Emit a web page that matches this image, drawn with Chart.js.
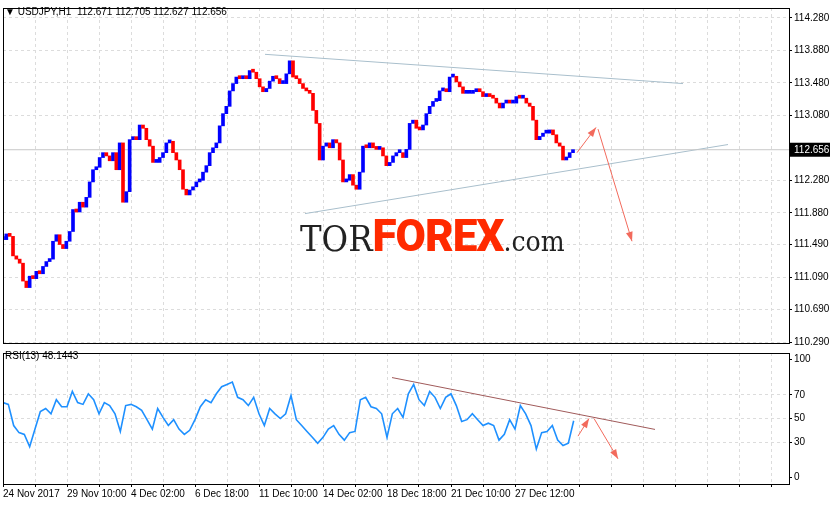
<!DOCTYPE html>
<html>
<head>
<meta charset="utf-8">
<script src="https://cdn.jsdelivr.net/npm/chart.js@4"></script>
<style>
	body { margin: 0; background: #fff; width: 831px; height: 505px; overflow: hidden; position: relative; font-family: 'Liberation Sans', sans-serif; }
	canvas { position: absolute; left: 0; }
	#main { top: 0; }
	#rsi { top: 345px; }
	.label { position: absolute; font-size: 10px; color: #000; white-space: pre; }
	.logo { position: absolute; left: 300px; top: 214px; white-space: nowrap; line-height: 1; }
	.logo .tor { font-family: 'DejaVu Serif Condensed', 'DejaVu Serif', serif; font-size: 36px; color: #222; }
	.logo .forex { font-family: 'Roboto', sans-serif; font-weight: 900; font-size: 44px; color: #ff2a00; letter-spacing: -1px; }
	.logo .com { font-family: 'DejaVu Serif Condensed', 'DejaVu Serif', serif; font-size: 28px; color: #222; }
</style>
</head>
<body>
<canvas id="main" width="831" height="351"></canvas>
<canvas id="rsi" width="831" height="160"></canvas>
<div class="label" style="left:5px;top:6px;">▼ USDJPY,H1  112.671 112.705 112.627 112.656</div>
<div class="label" style="left:5px;top:350px;">RSI(13) 48.1443</div>
<div class="logo"><span class="tor">TOR</span><span class="forex">FOREX</span><span class="com">.com</span></div>
<script>
// closes sampled roughly every 10/3 hourly bars
const closeStep = 10 / 3
const closes = [
	111.55, 111.62, 111.59, 111.35, 111.31, 111.26, 111.04, 110.96, 111.10, 111.07,
	111.16, 111.13, 111.22, 111.28, 111.31, 111.53, 111.61, 111.49, 111.44, 111.53,
	111.65, 111.92, 111.89, 112.01, 111.95, 112.07, 112.26, 112.41, 112.44, 112.56,
	112.62, 112.58, 112.52, 112.62, 112.41, 112.74, 112.01, 112.14, 112.78, 112.80,
	112.78, 112.96, 112.92, 112.78, 112.70, 112.50, 112.50, 112.56, 112.62, 112.74,
	112.76, 112.62, 112.53, 112.41, 112.17, 112.10, 112.16, 112.20, 112.26, 112.28,
	112.38, 112.46, 112.62, 112.68, 112.74, 112.95, 113.10, 113.19, 113.38, 113.47,
	113.55, 113.53, 113.55, 113.53, 113.63, 113.61, 113.53, 113.43, 113.37, 113.41,
	113.50, 113.56, 113.53, 113.47, 113.47, 113.59, 113.75, 113.55, 113.53, 113.47,
	113.41, 113.38, 113.35, 113.14, 112.98, 112.53, 112.70, 112.74, 112.68, 112.78,
	112.74, 112.53, 112.26, 112.28, 112.35, 112.22, 112.17, 112.38, 112.70, 112.68,
	112.74, 112.68, 112.66, 112.68, 112.58, 112.46, 112.50, 112.58, 112.62, 112.62,
	112.56, 112.66, 112.98, 113.02, 112.92, 112.90, 112.96, 113.10, 113.19, 113.25,
	113.26, 113.38, 113.38, 113.37, 113.55, 113.56, 113.49, 113.43, 113.35, 113.35,
	113.35, 113.37, 113.38, 113.37, 113.31, 113.32, 113.31, 113.29, 113.23, 113.17,
	113.23, 113.26, 113.23, 113.23, 113.31, 113.29, 113.29, 113.23, 113.19, 113.02,
	112.78, 112.82, 112.86, 112.86, 112.90, 112.84, 112.74, 112.70, 112.53, 112.56,
	112.62, 112.656,
]

// RSI(13) sampled roughly every 16/3 hourly bars
const rsiStep = 16 / 3
const rsiValues = [
	63.5, 62, 44, 38, 36.5, 26, 41, 56, 58.5, 54, 66, 60, 60, 73, 63.5, 62, 71, 66, 54, 63.5,
	61, 54, 39, 61, 62, 60, 57, 49, 41, 58.5, 51, 44, 49, 41, 36.5, 40, 49, 60, 66, 63.5,
	71, 77, 79, 81, 68, 66, 61, 68, 54, 44, 58.5, 54, 50, 54, 69.6, 49, 44, 39, 34, 29,
	34, 41, 44, 36.5, 31.6, 38, 39, 66, 68, 60, 58.5, 54, 34, 54, 58.5, 51, 71, 79, 66, 61,
	73, 68, 58.5, 68, 71, 61, 47.5, 49, 54, 49, 44, 46, 44, 31.6, 36.5, 49, 41, 61, 54, 44,
	24, 38, 39, 44, 31.6, 27, 29, 48.1,
]

const priceTicks = [114.28, 113.88, 113.48, 113.08, 112.28, 111.88, 111.49, 111.09, 110.69, 110.29]
const rsiTicks = [100, 70, 50, 30, 0]
const rsiGrid = [70, 50, 30]
const lastPrice = 112.656

// x positions in hours from 24 Nov 2017 00:00
const dateTicks = [0, 64, 128, 192, 256, 320, 384, 448, 512]
const dateLabels = ['24 Nov 2017', '29 Nov 10:00', '4 Dec 02:00', '6 Dec 18:00', '11 Dec 10:00', '14 Dec 02:00', '18 Dec 18:00', '21 Dec 10:00', '27 Dec 12:00']

const upperTrend = [{ x: 262, y: 113.83 }, { x: 680, y: 113.47 }]
const lowerTrend = [{ x: 302, y: 111.87 }, { x: 725, y: 112.72 }]
const priceArrows = [
	[{ x: 574, y: 112.62 }, { x: 593, y: 112.93 }],
	[{ x: 595, y: 112.91 }, { x: 629, y: 111.53 }],
]
const rsiTrend = [{ x: 389, y: 84.8 }, { x: 652, y: 40.7 }]
const rsiArrows = [
	[{ x: 575, y: 35 }, { x: 586, y: 50 }],
	[{ x: 591, y: 50 }, { x: 615, y: 15.7 }],
]

const xMax = 786
const gridColor = '#dcdcdc'
const arrowColor = '#f26a5c'
const font = { family: 'Liberation Sans', size: 10 }

const candles = closes.map((c, i) => ({
	x: i * closeStep,
	y: [i === 0 ? c : closes[i - 1], c],
}))
const rsiPoints = rsiValues.map((v, i) => ({ x: i * rsiStep, y: v }))

const framePlugin = {
	id: 'frame',
	afterDraw(chart) {
		const { ctx, chartArea: a } = chart
		ctx.save()
		ctx.strokeStyle = '#000'
		ctx.lineWidth = 1
		ctx.strokeRect(a.left + 0.5, a.top + 0.5, a.right - a.left, a.bottom - a.top)
		const arrows = chart.options.plugins.frame.arrows || []
		const xs = chart.scales.x
		const ys = chart.scales.y
		ctx.strokeStyle = arrowColor
		ctx.fillStyle = arrowColor
		arrows.forEach(([p, q]) => {
			const x1 = xs.getPixelForValue(p.x), y1 = ys.getPixelForValue(p.y)
			const x2 = xs.getPixelForValue(q.x), y2 = ys.getPixelForValue(q.y)
			ctx.beginPath()
			ctx.moveTo(x1, y1)
			ctx.lineTo(x2, y2)
			ctx.stroke()
			const ang = Math.atan2(y2 - y1, x2 - x1)
			ctx.beginPath()
			ctx.moveTo(x2, y2)
			ctx.lineTo(x2 - 10 * Math.cos(ang - 0.35), y2 - 10 * Math.sin(ang - 0.35))
			ctx.lineTo(x2 - 10 * Math.cos(ang + 0.35), y2 - 10 * Math.sin(ang + 0.35))
			ctx.closePath()
			ctx.fill()
		})
		const tag = chart.options.plugins.frame.priceTag
		if (tag) {
			const y = ys.getPixelForValue(tag)
			ctx.fillStyle = '#000'
			ctx.fillRect(a.right + 1, y - 7, 40, 14)
			ctx.fillStyle = '#fff'
			ctx.font = '10px Liberation Sans'
			ctx.textBaseline = 'middle'
			ctx.fillText(tag.toFixed(3), a.right + 5, y + 1)
		}
		ctx.restore()
	},
}

const xAxis = (showLabels) => ({
	type: 'linear',
	min: 0,
	max: xMax,
	offset: false,
	afterBuildTicks: (s) => {
		const t = []
		for (let v = 32; v < xMax; v += 32) t.push({ value: v })
		s.ticks = [{ value: 0 }].concat(t)
	},
	afterFit: (s) => { s.height = showLabels ? 21 : 0 },
	grid: { color: gridColor, offset: false, drawTicks: showLabels, tickLength: 3, tickColor: '#000', tickBorderDash: [] },
	border: { display: false, dash: [3, 3] },
	ticks: {
		display: showLabels,
		align: 'start',
		maxRotation: 0,
		autoSkip: false,
		padding: 1,
		color: '#000',
		font,
		callback: (v) => {
			const i = dateTicks.indexOf(v)
			return i >= 0 ? dateLabels[i] : ''
		},
	},
})

const yAxis = (min, max, ticks, gridVals) => ({
	position: 'right',
	min,
	max,
	afterBuildTicks: (s) => { s.ticks = ticks.map((v) => ({ value: v })) },
	afterFit: (s) => { s.width = 42 },
	grid: {
		color: (c) => (gridVals.includes(c.tick.value) ? gridColor : 'rgba(0,0,0,0)'),
		tickLength: 3,
		tickColor: '#000',
		tickBorderDash: [],
	},
	border: { display: false, dash: [3, 3] },
	ticks: { color: '#000', font, padding: 2, callback: (v) => (ticks === priceTicks ? v.toFixed(3) : v) },
})

const lineSet = (data, color) => ({
	type: 'line',
	data,
	borderColor: color,
	borderWidth: 1,
	pointRadius: 0,
	fill: false,
})

new Chart(document.getElementById('main'), {
	type: 'bar',
	data: {
		datasets: [
			{
				data: candles,
				backgroundColor: (c) => {
					const r = c.raw
					return r && r.y[1] < r.y[0] ? '#ff0000' : '#0000ff'
				},
				barThickness: 3,
				minBarLength: 3,
			},
			lineSet([{ x: 0, y: lastPrice }, { x: xMax, y: lastPrice }], '#c8c8c8'),
			lineSet(upperTrend, '#a9bfcc'),
			lineSet(lowerTrend, '#a9bfcc'),
		],
	},
	options: {
		responsive: false,
		animation: false,
		layout: { padding: { left: 3, top: 3, bottom: 2, right: 0 } },
		plugins: {
			legend: { display: false },
			tooltip: { enabled: false },
			frame: { arrows: priceArrows, priceTag: lastPrice },
		},
		scales: {
			x: xAxis(false),
			y: yAxis(110.278, 114.4, priceTicks, priceTicks),
		},
	},
	plugins: [framePlugin],
})

new Chart(document.getElementById('rsi'), {
	type: 'line',
	data: {
		datasets: [
			{ data: rsiPoints, borderColor: '#1e90ff', borderWidth: 1.6, pointRadius: 0, fill: false, tension: 0 },
			lineSet(rsiTrend, '#a05a5a'),
		],
	},
	options: {
		responsive: false,
		animation: false,
		layout: { padding: { left: 3, top: 2, bottom: 0, right: 0 } },
		plugins: {
			legend: { display: false },
			tooltip: { enabled: false },
			frame: { arrows: rsiArrows },
		},
		scales: {
			x: xAxis(true),
			y: yAxis(-5.7, 105.7, rsiTicks, rsiGrid),
		},
	},
	plugins: [framePlugin],
})
</script>
</body>
</html>
